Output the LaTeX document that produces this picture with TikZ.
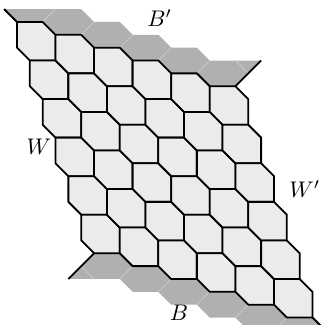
\documentclass[tikz,border=0pt]{standalone}
\usepackage{tikz}
\usetikzlibrary{positioning}

\definecolor{cellfill}{RGB}{234,236,235}
\definecolor{bandgray}{RGB}{176,176,176}
\definecolor{seamgray}{RGB}{200,200,200}

\begin{document}
\begin{tikzpicture}[x=0.2cm, y=0.2cm,
    hexcell/.style={draw, fill=cellfill, line width=0.8pt, line join=round},
    band/.style={fill=bandgray},
    seam/.style={draw=seamgray, line width=0.4pt},
    rim/.style={draw, line width=0.8pt}]
    \clip (-1.32,-23.58) rectangle (23.74,1.71);

    \fill[band] (0,0) -- (-1,1) -- (5,1) -- (6,0) -- (8,0) -- (9,-1) -- (11,-1) -- (12,-2) -- (14,-2) -- (15,-3) -- (19,-3) -- (17,-5) -- (15,-5) -- (14,-4) -- (12,-4) -- (11,-3) -- (9,-3) -- (8,-2) -- (6,-2) -- (5,-1) -- (3,-1) -- (2,0) -- cycle;
    \fill[band] (23,-23) -- (24,-24) -- (18,-24) -- (17,-23) -- (15,-23) -- (14,-22) -- (12,-22) -- (11,-21) -- (9,-21) -- (8,-20) -- (4,-20) -- (6,-18) -- (8,-18) -- (9,-19) -- (11,-19) -- (12,-20) -- (14,-20) -- (15,-21) -- (17,-21) -- (18,-22) -- (20,-22) -- (21,-23) -- cycle;

    \foreach \k in {0,...,4} {
        \draw[seam] (3*\k+2,-\k) -- (3*\k+3,1-\k);
        \draw[seam] (21-3*\k,-23+\k) -- (20-3*\k,-24+\k);
    }
    \draw[seam] (17,-3) -- (18,-4);
    \draw[seam] (6,-20) -- (5,-19);

    \foreach \i in {0,...,5}
        \foreach \j in {0,...,5}
            \draw[hexcell, shift={(3*\i+\j,-\i-3*\j)}] (0,0) -- (2,0) -- (3,-1) -- (3,-3) -- (1,-3) -- (0,-2) -- cycle;

    \draw[rim] (0,0) -- (-1,1);
    \draw[rim] (17,-5) -- (19,-3);
    \draw[rim] (23,-23) -- (24,-24);
    \draw[rim] (6,-18) -- (4,-20);

    \node (bprime) at (11.1,0.3) {$B'$};
    \node (bset) at (12.6,-22.6) {$B$};
    \node (wset) at (1.7,-9.7) {$W$};
    \node (wprime) at (22.4,-13.0) {$W'$};
\end{tikzpicture}
\end{document}
